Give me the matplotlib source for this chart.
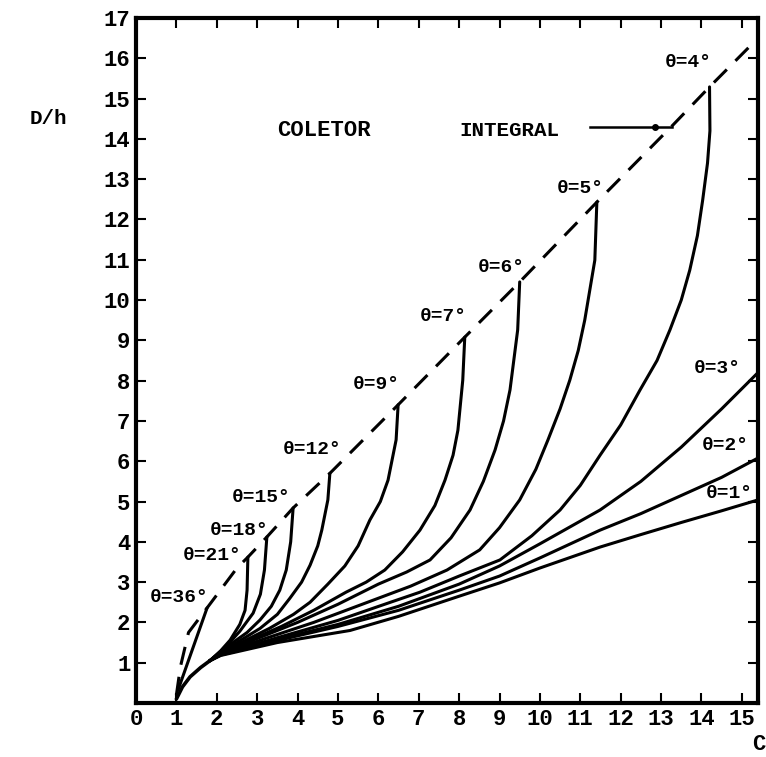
import matplotlib.pyplot as plt

plt.rcParams['font.family'] = ['Liberation Mono', 'DejaVu Sans']
plt.rcParams['font.weight'] = 'bold'

# dashed "coletor integral" envelope
env_x = [1.0, 1.1, 1.3, 1.76, 2.5, 2.77, 3.24, 3.89, 4.8, 6.49, 8.14, 9.5, 11.41, 13.3, 14.2, 15.3]
env_y = [0.2, 0.9, 1.75, 2.36, 3.35, 3.62, 4.12, 4.84, 5.7, 7.4, 9.08, 10.45, 12.43, 14.35, 15.29, 16.4]

# common trunk shared by every curve except 36 deg
trunk_x = [1.0, 1.15, 1.34, 1.6, 1.83]
trunk_y = [0.1, 0.4, 0.65, 0.88, 1.05]

# solid curves (after the trunk), one per collector angle
curves = {
    "21": ([2.1, 2.33, 2.57, 2.7, 2.75, 2.77], [1.3, 1.56, 1.95, 2.3, 2.8, 3.62]),
    "18": ([2.1, 2.3, 2.57, 2.9, 3.08, 3.18, 3.24], [1.28, 1.48, 1.78, 2.23, 2.7, 3.3, 4.12]),
    "15": ([2.1, 2.4, 2.75, 3.07, 3.35, 3.56, 3.72, 3.83, 3.89], [1.27, 1.5, 1.75, 2.06, 2.4, 2.8, 3.3, 4.0, 4.84]),
    "12": ([2.1, 2.5, 3.07, 3.5, 3.81, 4.1, 4.31, 4.5, 4.6, 4.75, 4.8], [1.26, 1.5, 1.85, 2.2, 2.6, 3.0, 3.42, 3.9, 4.29, 5.04, 5.7]),
    "9": ([2.1, 2.6, 3.3, 3.9, 4.31, 4.75, 5.17, 5.5, 5.79, 6.05, 6.24, 6.44, 6.49], [1.25, 1.5, 1.85, 2.2, 2.5, 2.95, 3.4, 3.9, 4.54, 5.0, 5.53, 6.53, 7.4]),
    "7": ([2.1, 2.8, 3.6, 4.4, 5.2, 5.7, 6.16, 6.6, 7.03, 7.4, 7.65, 7.85, 7.97, 8.09, 8.14], [1.24, 1.55, 1.9, 2.3, 2.75, 3.0, 3.3, 3.75, 4.29, 4.9, 5.53, 6.15, 6.77, 8.01, 9.08]),
    "6": ([2.1, 3.0, 4.0, 5.0, 6.0, 6.7, 7.28, 7.8, 8.27, 8.6, 8.89, 9.1, 9.26, 9.45, 9.5], [1.23, 1.6, 2.0, 2.45, 2.95, 3.25, 3.55, 4.1, 4.79, 5.5, 6.28, 7.0, 7.77, 9.26, 10.45]),
    "5": ([2.1, 3.2, 4.4, 5.6, 6.8, 7.7, 8.51, 9.0, 9.5, 9.9, 10.2, 10.5, 10.74, 10.95, 11.11, 11.36, 11.41],
          [1.22, 1.6, 2.0, 2.45, 2.9, 3.3, 3.8, 4.35, 5.04, 5.8, 6.53, 7.3, 8.01, 8.75, 9.5, 10.99, 12.43]),
    "4": ([2.1, 3.5, 5.0, 6.3, 7.03, 8.0, 9.01, 9.8, 10.5, 11.0, 11.49, 12.0, 12.48, 12.9, 13.22, 13.5, 13.71, 13.9, 14.03, 14.15, 14.21, 14.2],
          [1.21, 1.62, 2.05, 2.5, 2.75, 3.15, 3.55, 4.15, 4.79, 5.4, 6.15, 6.9, 7.77, 8.5, 9.26, 10.0, 10.74, 11.6, 12.48, 13.4, 14.2, 15.29]),
    "3": ([2.1, 3.5, 5.0, 6.5, 8.0, 9.0, 10.0, 11.49, 12.5, 13.5, 14.5, 15.4], [1.2, 1.58, 1.95, 2.4, 2.95, 3.4, 3.95, 4.79, 5.5, 6.35, 7.3, 8.2]),
    "2": ([2.1, 3.5, 5.0, 6.5, 8.0, 9.0, 10.0, 11.49, 12.5, 13.5, 14.5, 15.4], [1.19, 1.55, 1.9, 2.3, 2.8, 3.15, 3.6, 4.29, 4.7, 5.15, 5.6, 6.08]),
    "1": ([2.1, 3.5, 5.3, 6.5, 8.0, 9.0, 10.0, 11.49, 12.5, 13.5, 14.5, 15.4], [1.18, 1.5, 1.8, 2.15, 2.65, 2.98, 3.35, 3.87, 4.18, 4.48, 4.77, 5.04]),
}

# 36 deg is a nearly straight stroke
c36_x = [1.04, 1.76]
c36_y = [0.32, 2.36]

# where each angle label sits
angles = ["36", "21", "18", "15", "12", "9", "7", "6", "5", "4", "3", "2", "1"]
label_x = [0.35, 1.16, 1.83, 2.38, 3.64, 5.37, 7.03, 8.47, 10.42, 13.1, 13.8, 14.0, 14.1]
label_y = [2.63, 3.65, 4.29, 5.1, 6.28, 7.9, 9.6, 10.8, 12.78, 15.9, 8.3, 6.4, 5.2]

fig = plt.figure(figsize=(7.66, 7.57), dpi=100)
ax = fig.add_axes([136 / 766, 1 - 703 / 757, 622 / 766, 685 / 757])

ax.plot(c36_x, c36_y, color="black", lw=2.2, solid_capstyle="round")
ax.plot(trunk_x, trunk_y, color="black", lw=2.6, solid_capstyle="round")
for key, (cx, cy) in curves.items():
    ax.plot([trunk_x[-1]] + cx, [trunk_y[-1]] + cy, color="black", lw=2.2,
            solid_capstyle="round", solid_joinstyle="round")

for a, lx, ly in zip(angles, label_x, label_y):
    ax.text(lx, ly, f"θ={a}°", fontsize=14, fontweight="bold", va="center", ha="left")

ax.plot(env_x, env_y, color="black", lw=2.2, dashes=(6, 4))

# pointer for the integral collector
ax.plot([11.24, 13.27], [14.3, 14.3], color="black", lw=1.8)
ax.plot([12.85], [14.3], marker="o", ms=4, color="black")
ax.text(3.49, 14.2, "COLETOR", fontsize=16, fontweight="bold", va="center")
ax.text(8.0, 14.2, "INTEGRAL", fontsize=15, fontweight="bold", va="center")

ax.set_xlim(0, 15.4)
ax.set_ylim(0, 17)
ax.set_xticks(range(0, 16))
ax.set_yticks(range(1, 18))
ax.tick_params(direction="in", length=7, width=1.5, top=True, right=True,
               labelsize=16, pad=4)
for lab in ax.get_xticklabels() + ax.get_yticklabels():
    lab.set_fontweight("bold")
for sp in ax.spines.values():
    sp.set_linewidth(3)

fig.text(30 / 766, 1 - 118 / 757, "D/h", fontsize=15, fontweight="bold", va="center")
fig.text(0.999, 1 - 745 / 757, "C", fontsize=16, fontweight="bold", va="center", ha="right")

fig.savefig("out.png", dpi=100)
